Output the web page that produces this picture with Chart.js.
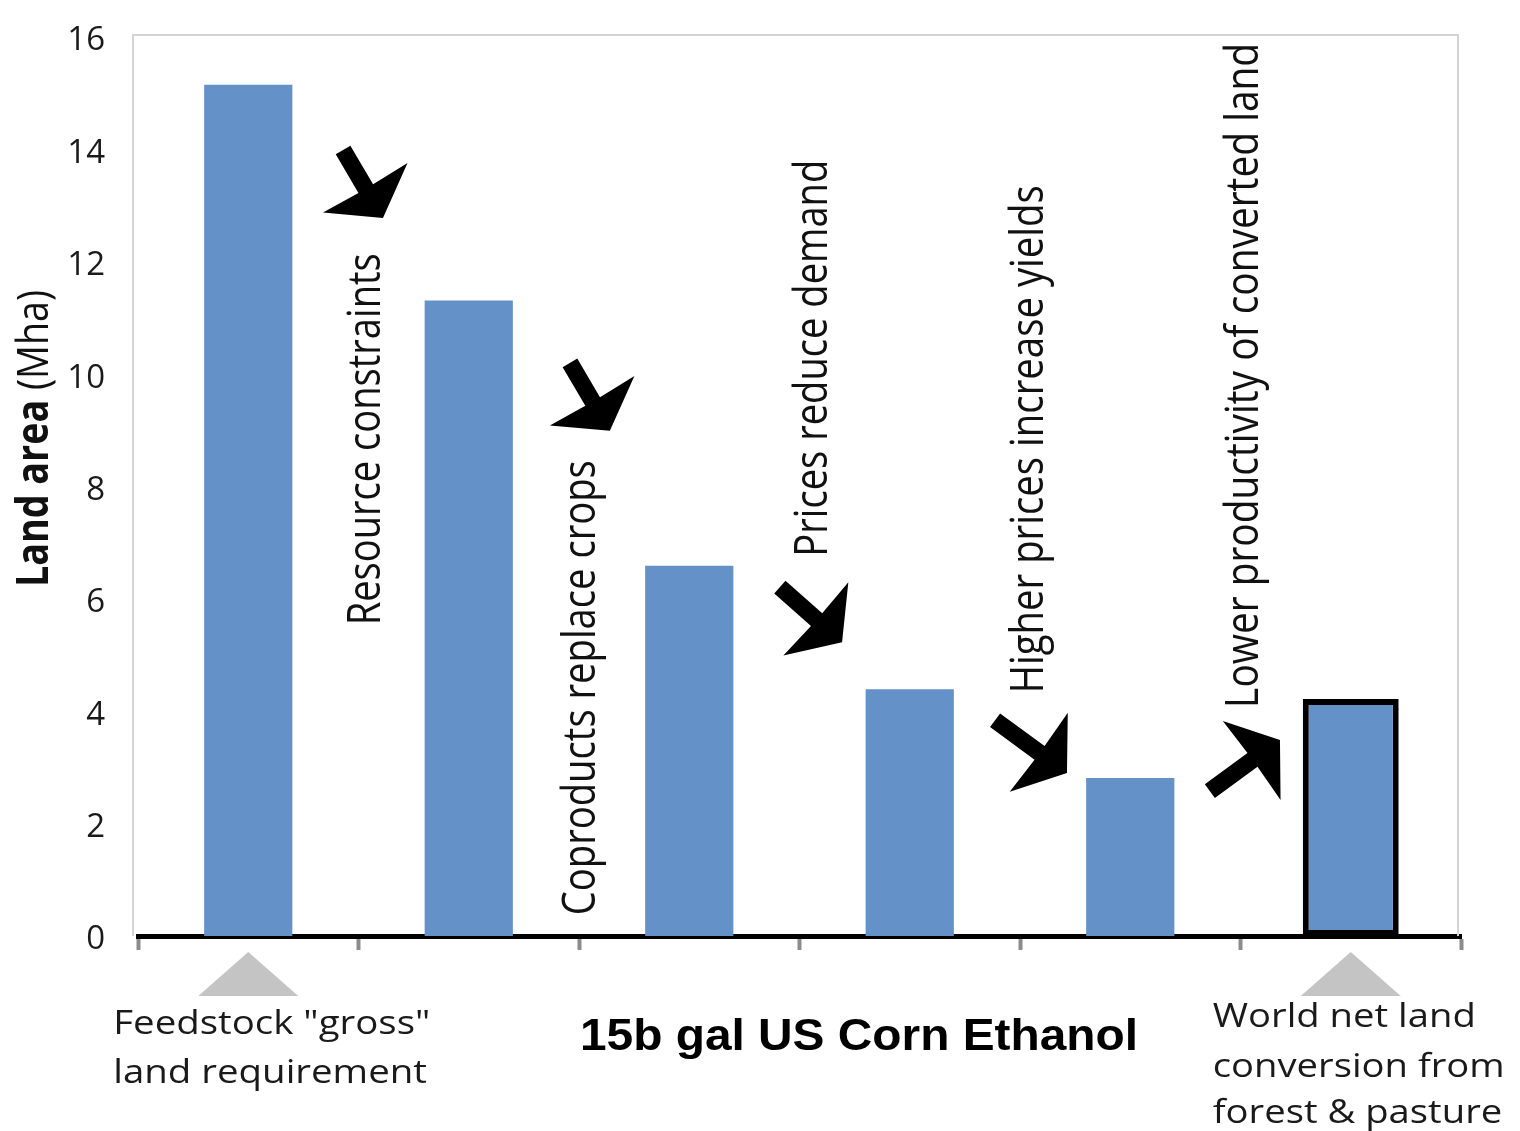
<!DOCTYPE html>
<html>
<head>
<meta charset="utf-8">
<script src="https://cdn.jsdelivr.net/npm/chart.js@4.4.1/dist/chart.umd.min.js"></script>
<style>
  html, body { margin: 0; padding: 0; background: #fff; }
  #wrap { width: 1520px; height: 1131px; }
</style>
</head>
<body>
<div id="wrap"><canvas id="c" width="1520" height="1131"></canvas></div>
<script>
// ---- data ----
const categories = [
  'Feedstock "gross" land requirement',
  'After resource constraints',
  'After coproducts replace crops',
  'After prices reduce demand',
  'After higher prices increase yields',
  'World net land conversion from forest & pasture'
];
const stepValues = [15.15, 11.31, 6.59, 4.39, 2.81, null];
const netValues  = [null, null, null, null, null, 4.22];
const yTicks = [0, 2, 4, 6, 8, 10, 12, 14, 16];
const effectLabels = [
  'Resource constraints',
  'Coproducts replace crops',
  'Prices reduce demand',
  'Higher prices increase yields',
  'Lower productivity of converted land'
];
const leftLabelLines = ['Feedstock "gross"', 'land requirement'];
const rightLabelLines = ['World net land', 'conversion from', 'forest & pasture'];
const chartTitle = '15b gal US Corn Ethanol';
const yTitleBold = 'Land area';
const yTitleRest = ' (Mha)';

// ---- annotation layout (in scale units: category index, value) ----
const effectTextPos = [
  { c: 0.598, v: 5.53, len: 372 },
  { c: 1.572, v: 0.37, len: 455 },
  { c: 2.625, v: 6.75, len: 397 },
  { c: 3.604, v: 4.32, len: 508 },
  { c: 4.579, v: 4.06, len: 665 }
];
const arrowPos = [
  { s: [0.430, 13.99], t: [0.611, 12.78] },
  { s: [1.459, 10.20], t: [1.640, 8.99] },
  { s: [2.411, 6.21],  t: [2.693, 5.23] },
  { s: [3.387, 3.84],  t: [3.713, 2.90] },
  { s: [4.361, 2.58],  t: [4.679, 3.49] }
];

const BAR_BLUE = '#6391c8';
const FONT = '"Open Sans", "DejaVu Sans", sans-serif';

function drawScaledText(ctx, text, x, y, font, targetLen, rot) {
  ctx.save();
  ctx.font = font;
  const w = ctx.measureText(text).width;
  const s = targetLen ? targetLen / w : 1;
  ctx.translate(x, y);
  if (rot) ctx.rotate(rot);
  ctx.scale(s, 1);
  ctx.fillText(text, 0, 0);
  ctx.restore();
}

function drawArrow(ctx, S, T) {
  const shaftW = 17, headL = 35, headHW = 49;
  const dx = T[0] - S[0], dy = T[1] - S[1];
  const L = Math.hypot(dx, dy);
  const ux = dx / L, uy = dy / L;
  const nx = -uy, ny = ux;
  const bx = T[0] - ux * headL, by = T[1] - uy * headL;
  const hw = shaftW / 2;
  ctx.save();
  ctx.fillStyle = '#000';
  ctx.beginPath();
  ctx.moveTo(S[0] + nx * hw, S[1] + ny * hw);
  ctx.lineTo(bx + nx * hw + ux, by + ny * hw + uy);
  ctx.lineTo(bx + nx * headHW, by + ny * headHW);
  ctx.lineTo(T[0], T[1]);
  ctx.lineTo(bx - nx * headHW, by - ny * headHW);
  ctx.lineTo(bx - nx * hw + ux, by - ny * hw + uy);
  ctx.lineTo(S[0] - nx * hw, S[1] - ny * hw);
  ctx.closePath();
  ctx.fill();
  ctx.restore();
}

const decorPlugin = {
  id: 'decor',
  beforeDraw(chart) {
    const ctx = chart.ctx;
    ctx.save();
    ctx.fillStyle = '#fff';
    ctx.fillRect(0, 0, chart.width, chart.height);
    ctx.restore();
  },
  beforeDatasetsDraw(chart) {
    const ctx = chart.ctx, a = chart.chartArea;
    ctx.save();
    ctx.strokeStyle = '#d4d4d4';
    ctx.lineWidth = 2;
    ctx.beginPath();
    ctx.moveTo(a.left - 5, a.bottom);
    ctx.lineTo(a.left - 5, a.top - 2);
    ctx.lineTo(a.right - 3, a.top - 2);
    ctx.lineTo(a.right - 3, a.bottom);
    ctx.stroke();
    ctx.restore();
  },
  afterDraw(chart) {
    const ctx = chart.ctx, a = chart.chartArea;
    const xs = chart.scales.x, ys = chart.scales.y;
    const px = c => xs.getPixelForValue(c);
    const py = v => ys.getPixelForValue(v);

    // arrows
    arrowPos.forEach(ap => {
      drawArrow(ctx, [px(ap.s[0]), py(ap.s[1])], [px(ap.t[0]), py(ap.t[1])]);
    });

    // rotated effect labels
    ctx.save();
    ctx.fillStyle = '#111';
    ctx.textAlign = 'left';
    ctx.textBaseline = 'alphabetic';
    effectLabels.forEach((t, i) => {
      const p = effectTextPos[i];
      drawScaledText(ctx, t, px(p.c), py(p.v), '46px ' + FONT, p.len, -Math.PI / 2);
    });
    ctx.restore();

    // y axis title (mixed weights)
    ctx.save();
    ctx.fillStyle = '#111';
    ctx.textAlign = 'left';
    ctx.textBaseline = 'alphabetic';
    const fb = 'bold 44px ' + FONT, fr = '44px ' + FONT;
    ctx.font = fb; const w1 = ctx.measureText(yTitleBold).width;
    ctx.font = fr; const w2 = ctx.measureText(yTitleRest).width;
    const s = 297 / (w1 + w2);
    ctx.translate(48, 587);
    ctx.rotate(-Math.PI / 2);
    ctx.scale(s, 1);
    ctx.font = fb; ctx.fillText(yTitleBold, 0, 0);
    ctx.font = fr; ctx.fillText(yTitleRest, w1, 0);
    ctx.restore();

    // pointer triangles
    ctx.save();
    ctx.fillStyle = '#c4c4c4';
    [0, 5].forEach(i => {
      const cx = px(i);
      ctx.beginPath();
      ctx.moveTo(cx, a.bottom + 16);
      ctx.lineTo(cx + 50, a.bottom + 60);
      ctx.lineTo(cx - 50, a.bottom + 60);
      ctx.closePath();
      ctx.fill();
    });
    ctx.restore();

    // category labels
    ctx.save();
    ctx.fillStyle = '#1a1a1a';
    ctx.textAlign = 'left';
    ctx.textBaseline = 'alphabetic';
    ctx.font = '33px ' + FONT;
    const sl = 317 / ctx.measureText(leftLabelLines[0]).width;
    const lx = px(0) - 135;
    [98, 147].forEach((dy, k) => {
      ctx.save(); ctx.translate(lx, a.bottom + dy); ctx.scale(sl, 1);
      ctx.fillText(leftLabelLines[k], 0, 0); ctx.restore();
    });
    const sr = 292 / ctx.measureText(rightLabelLines[1]).width;
    const rx = px(5) - 138;
    [91, 141, 187].forEach((dy, k) => {
      ctx.save(); ctx.translate(rx, a.bottom + dy); ctx.scale(sr, 1);
      ctx.fillText(rightLabelLines[k], 0, 0); ctx.restore();
    });
    ctx.restore();

    // title
    ctx.save();
    ctx.fillStyle = '#000';
    ctx.textAlign = 'center';
    ctx.textBaseline = 'alphabetic';
    drawScaledText(ctx, chartTitle, 859, a.bottom + 114, 'bold 44px "Liberation Sans", Arial, sans-serif', 558, 0);
    ctx.restore();
  }
};

new Chart(document.getElementById('c'), {
  type: 'bar',
  data: {
    labels: categories,
    datasets: [
      {
        data: stepValues,
        backgroundColor: BAR_BLUE,
        borderWidth: 0,
        barPercentage: 0.4,
        categoryPercentage: 1,
        grouped: false
      },
      {
        data: netValues,
        backgroundColor: BAR_BLUE,
        borderColor: '#000',
        borderWidth: 6,
        borderSkipped: false,
        barPercentage: 0.435,
        categoryPercentage: 1,
        grouped: false
      }
    ]
  },
  options: {
    responsive: false,
    animation: false,
    layout: { padding: { left: 0, top: 37, right: 59, bottom: 0 } },
    plugins: { legend: { display: false }, tooltip: { enabled: false }, title: { display: false } },
    scales: {
      x: {
        offset: true,
        ticks: { display: false },
        grid: {
          display: true, offset: true, drawOnChartArea: false, drawTicks: true,
          tickLength: 14, tickWidth: 4, tickColor: '#8c8c8c'
        },
        border: { display: true, color: '#000', width: 5 },
        afterFit(scale) {
          scale.height = 1131 - 936;
          scale.paddingLeft = 0; scale.paddingRight = 0;
        }
      },
      y: {
        min: 0, max: 16,
        afterBuildTicks(scale) { scale.ticks = yTicks.map(v => ({ value: v })); },
        ticks: { color: '#1a1a1a', padding: 33, labelOffset: 4, font: { family: FONT, size: 33 } },
        grid: { display: false, drawTicks: false },
        border: { display: false },
        afterFit(scale) {
          scale.width = 138;
          scale.paddingTop = 0; scale.paddingBottom = 0;
        }
      }
    }
  },
  plugins: [decorPlugin]
});
</script>
</body>
</html>
